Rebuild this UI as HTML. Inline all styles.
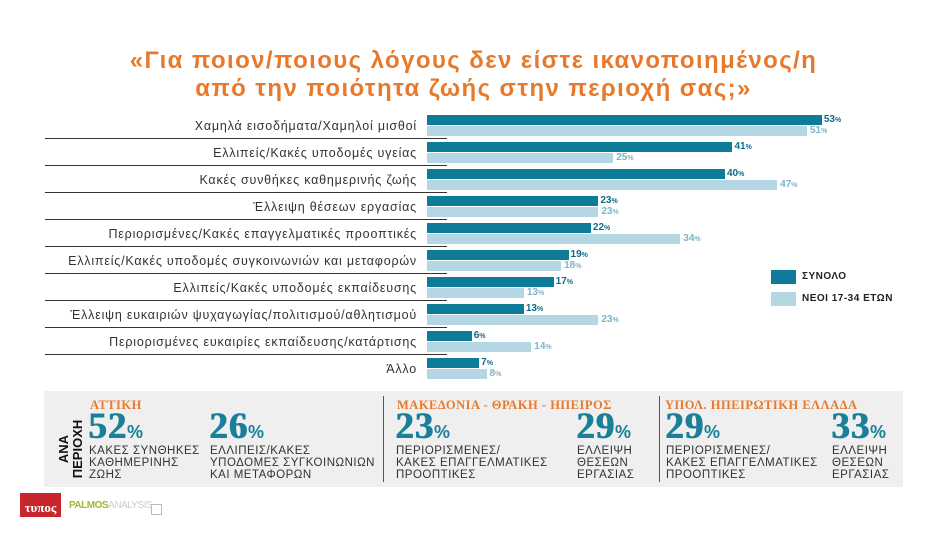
<!DOCTYPE html>
<html><head><meta charset="utf-8">
<style>
body{margin:0;width:947px;height:533px;background:#fff;position:relative;overflow:hidden;font-family:"Liberation Sans","DejaVu Sans",sans-serif}
.abs{position:absolute}
.title{left:0;width:947px;text-align:center;color:#e8792b;font-weight:bold;font-size:24px;letter-spacing:1.4px;line-height:28px;top:47px}
.lab{right:530px;font-size:12.5px;letter-spacing:0.8px;color:#333;white-space:nowrap;text-align:right}
.sep{left:45px;width:402px;height:1px;background:#333}
.val{font-size:10px;font-weight:bold;white-space:nowrap}
.val small{font-size:7px}
.panel{left:44px;top:391px;width:859px;height:96px;background:#efefef}
.reg{color:#e8792b;font-family:"Liberation Serif",serif;font-weight:bold;font-size:12.5px;letter-spacing:0.5px}
.big{color:#1a7f99;font-family:"Liberation Serif",serif;font-weight:bold;font-size:37px;line-height:30px;letter-spacing:1px;text-shadow:1px 0 0 #1a7f99}
.big small{font-size:18px;font-family:"Liberation Sans",sans-serif;text-shadow:none}
.desc{font-size:11.5px;color:#333;line-height:12px;letter-spacing:0.5px}
</style></head><body>
<div class="abs title">«Για ποιον/ποιους λόγους δεν είστε ικανοποιημένος/η<br>από την ποιότητα ζωής στην περιοχή σας;»</div>
<div id="chart"></div>
<div class="abs" style="left:771px;top:270px;width:25px;height:14px;background:#0e7c99"></div>
<div class="abs" style="left:802px;top:271px;font-size:10px;font-weight:bold;color:#222;letter-spacing:0.5px">ΣΥΝΟΛΟ</div>
<div class="abs" style="left:771px;top:292px;width:25px;height:14px;background:#b5d6e3"></div>
<div class="abs" style="left:802px;top:293px;font-size:10px;font-weight:bold;color:#222;letter-spacing:0.5px">ΝΕΟΙ 17-34 ΕΤΩΝ</div>

<div class="abs panel"></div>
<div class="abs" style="left:50px;top:415px;width:40px;height:64px">
 <div style="position:absolute;left:-12px;top:20px;width:66px;transform:rotate(-90deg);text-align:center;font-weight:bold;font-size:13px;line-height:14px;color:#111">ΑΝΑ<br>ΠΕΡΙΟΧΗ</div>
</div>
<div class="abs" style="left:383px;top:396px;width:1px;height:86px;background:#555"></div>
<div class="abs" style="left:659px;top:396px;width:1px;height:86px;background:#555"></div>
<div class="abs reg" style="left:90px;top:398px">ΑΤΤΙΚΗ</div>
<div class="abs reg" style="left:397px;top:398px">ΜΑΚΕΔΟΝΙΑ - ΘΡΑΚΗ - ΗΠΕΙΡΟΣ</div>
<div class="abs reg" style="left:665px;top:398px">ΥΠΟΛ. ΗΠΕΙΡΩΤΙΚΗ ΕΛΛΑΔΑ</div>

<div class="abs big" style="left:88px;top:412px">52<small>%</small></div>
<div class="abs desc" style="left:89px;top:445px">ΚΑΚΕΣ ΣΥΝΘΗΚΕΣ<br>ΚΑΘΗΜΕΡΙΝΗΣ<br>ΖΩΗΣ</div>
<div class="abs big" style="left:209px;top:412px">26<small>%</small></div>
<div class="abs desc" style="left:210px;top:445px">ΕΛΛΙΠΕΙΣ/ΚΑΚΕΣ<br>ΥΠΟΔΟΜΕΣ ΣΥΓΚΟΙΝΩΝΙΩΝ<br>ΚΑΙ ΜΕΤΑΦΟΡΩΝ</div>
<div class="abs big" style="left:395px;top:412px">23<small>%</small></div>
<div class="abs desc" style="left:396px;top:445px">ΠΕΡΙΟΡΙΣΜΕΝΕΣ/<br>ΚΑΚΕΣ ΕΠΑΓΓΕΛΜΑΤΙΚΕΣ<br>ΠΡΟΟΠΤΙΚΕΣ</div>
<div class="abs big" style="left:576px;top:412px">29<small>%</small></div>
<div class="abs desc" style="left:577px;top:445px">ΕΛΛΕΙΨΗ<br>ΘΕΣΕΩΝ<br>ΕΡΓΑΣΙΑΣ</div>
<div class="abs big" style="left:665px;top:412px">29<small>%</small></div>
<div class="abs desc" style="left:666px;top:445px">ΠΕΡΙΟΡΙΣΜΕΝΕΣ/<br>ΚΑΚΕΣ ΕΠΑΓΓΕΛΜΑΤΙΚΕΣ<br>ΠΡΟΟΠΤΙΚΕΣ</div>
<div class="abs big" style="left:831px;top:412px">33<small>%</small></div>
<div class="abs desc" style="left:832px;top:445px">ΕΛΛΕΙΨΗ<br>ΘΕΣΕΩΝ<br>ΕΡΓΑΣΙΑΣ</div>

<div class="abs" style="left:20px;top:493px;width:41px;height:24px;background:#c8252c;color:#fff;font-weight:bold;font-size:13px;text-align:center;line-height:30px;font-family:'Liberation Serif',serif">τυπος</div>
<div class="abs" style="left:69px;top:500px;font-size:10px;font-weight:bold;color:#9bbb2e;letter-spacing:-0.5px">PALMOS<span style="color:#ccc;font-weight:normal">ANALYSIS</span></div>
<div class="abs" style="left:151px;top:504px;width:9px;height:9px;border:1px solid #bbb"></div>

<script>
const categories=["Χαμηλά εισοδήματα/Χαμηλοί μισθοί","Ελλιπείς/Κακές υποδομές υγείας","Κακές συνθήκες καθημερινής ζωής","Έλλειψη θέσεων εργασίας","Περιορισμένες/Κακές επαγγελματικές προοπτικές","Ελλιπείς/Κακές υποδομές συγκοινωνιών και μεταφορών","Ελλιπείς/Κακές υποδομές εκπαίδευσης","Έλλειψη ευκαιριών ψυχαγωγίας/πολιτισμού/αθλητισμού","Περιορισμένες ευκαιρίες εκπαίδευσης/κατάρτισης","Άλλο"];
const totalValues=[53,41,40,23,22,19,17,13,6,7];
const youngValues=[51,25,47,23,34,18,13,23,14,8];
const x0=427, scale=7.45, rowTop=115, rowH=27;
function xs(v){return v*scale;}
function ys(i){return rowTop+i*rowH;}
const c=document.getElementById('chart');
function mk(cls,style,html){const d=document.createElement('div');d.className='abs '+cls;d.style.cssText=style;if(html)d.innerHTML=html;c.appendChild(d);return d;}
categories.forEach((cat,i)=>{
  const y=ys(i);
  const l=mk('lab','top:'+(y+4)+'px',cat);
  
  
  if(i<categories.length-1){
    const s=mk('sep','top:'+(y+23)+'px');
    
    
  }
  const b1=mk('','left:'+x0+'px;top:'+y+'px;height:10px;width:'+xs(totalValues[i])+'px;background:#0e7c99');
  
  
  const b2=mk('','left:'+x0+'px;top:'+(y+11)+'px;height:10px;width:'+xs(youngValues[i])+'px;background:#b5d6e3');
  
  
  const v1=mk('val','left:'+(x0+xs(totalValues[i])+2)+'px;top:'+(y-1)+'px;color:#0e6d88',totalValues[i]+'<small>%</small>');
  
  
  const v2=mk('val','left:'+(x0+xs(youngValues[i])+3)+'px;top:'+(y+10)+'px;color:#7fb3c8',youngValues[i]+'<small>%</small>');
  
  
});
</script>
</body></html>
